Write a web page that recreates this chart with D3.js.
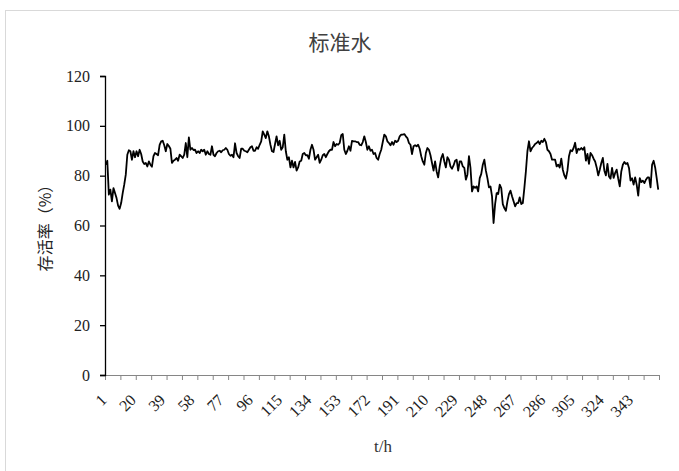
<!DOCTYPE html>
<html>
<head>
<meta charset="utf-8">
<script src="https://cdn.jsdelivr.net/npm/d3@7"></script>
<style>
  html, body { margin: 0; padding: 0; background: #fff; }
  svg { display: block; }
</style>
</head>
<body>
<svg id="chart" width="679" height="471"></svg>
<script>
// Survival rate (%) per hour, hours 1..360
const survival = [
  84.4, 86, 72.4, 74.4, 69.7, 75, 73, 71, 68, 66.7,
  69, 73, 76.4, 80.4, 88.4, 90.2, 89.8, 86.4, 89.8, 87.4,
  89.8, 87.8, 90.4, 88.7, 85.7, 84.7, 85.1, 83.7, 85.7, 84.4,
  83.6, 87.8, 89.1, 88.7, 88.2, 92.4, 93.8, 94, 92.2, 89.8,
  92.7, 91.9, 90.8, 85.1, 86, 86.4, 87.1, 86, 88.4, 87.8,
  87.1, 88.4, 93.1, 87.4, 95.4, 90.4, 91.1, 90.3, 90.4, 89.1,
  89.8, 89.1, 90.4, 89.8, 90.4, 88.4, 89.8, 88.7, 88.4, 91.8,
  88.4, 87.8, 89.1, 89.8, 90, 89.4, 90.2, 90.4, 91.1, 90.4,
  88.7, 88, 88.4, 87.4, 93, 89.1, 87.8, 87.1, 90.8, 90.8,
  90, 89.8, 89.4, 90.4, 91.4, 91.8, 90, 90, 91.4, 90.8,
  92.4, 93.8, 97.8, 96.5, 95.1, 97.8, 95.8, 92.4, 89.8, 89.5,
  92.7, 95.8, 92.2, 94, 90.4, 91.4, 96.5, 89.8, 86.4, 87.4,
  83.3, 86, 83.3, 85.5, 82, 83.3, 85.7, 86, 88.7, 89.1,
  88.2, 88.2, 86.8, 90.4, 92.4, 90.4, 86.4, 87.4, 88.4, 85.1,
  86.4, 88.2, 88.7, 87.4, 88.7, 89.8, 90.4, 90.4, 93.5, 91.8,
  92.7, 92.4, 93.1, 96.2, 96.7, 90.4, 88.7, 90, 91.8, 90,
  94, 93.8, 93.8, 93.5, 93.5, 92.4, 92.2, 93.5, 95.8, 93.5,
  90.4, 91.8, 90, 90.4, 88.7, 89.1, 87.1, 86.4, 88.7, 90.4,
  93.5, 96.5, 95.8, 93.8, 93.1, 92.2, 93.5, 92.4, 94, 93.5,
  94, 95.8, 96.5, 96.5, 96.7, 95.8, 95.1, 93.1, 92.4, 88.7,
  91.8, 92.2, 91.8, 92.4, 90.8, 87.8, 85.7, 84.4, 89.1, 91.1,
  90.4, 88.2, 85.1, 82, 85.7, 81.7, 79.3, 83.7, 87.1, 88.7,
  85.7, 83.3, 87.4, 86.4, 83.7, 82.8, 84.1, 86, 86.4, 82,
  85.7, 85.7, 83.7, 83.1, 78.4, 80.4, 87.8, 83.1, 73.7, 75.7,
  75.1, 75.7, 73.7, 79, 80.7, 84.4, 86.4, 82, 79, 75.3,
  75.7, 71.7, 61, 68.6, 73, 72.6, 76.4, 75, 68.6, 67,
  65.9, 69.7, 72.6, 74, 71.7, 69.7, 67.7, 69, 69, 71.3,
  68.6, 69, 75, 81.7, 89.8, 93.8, 89.8, 91.1, 91.8, 92.7,
  93.1, 93.8, 92.7, 94, 93.5, 94.8, 93.5, 90.4, 89.8, 88.7,
  86.4, 86.4, 86.4, 83.7, 84.4, 83.3, 86.8, 82.4, 80.1, 78.8,
  82, 87.8, 90.2, 89.8, 91.1, 93.2, 89.1, 90.8, 90.4, 91.1,
  90.4, 91.4, 86, 88.7, 84.7, 89.1, 88.2, 86.8, 85.7, 83.3,
  80.1, 82.4, 85.1, 87.1, 82, 80.1, 84.7, 79.7, 78.8, 83.1,
  79.1, 81.1, 82.4, 78.8, 75.7, 81.7, 84.4, 85.5, 84.7, 85.1,
  83.1, 78, 79, 76.4, 79.3, 76.4, 72, 79, 77.4, 78,
  77, 78.4, 79.3, 79.3, 75.3, 84.4, 86, 83.3, 79, 74.4
];
const hours = survival.map((_, i) => i + 1);
const hourLabels = [1, 20, 39, 58, 77, 96, 115, 134, 153, 172, 191, 210, 229, 248, 267, 286, 305, 324, 343];
const yTicks = [0, 20, 40, 60, 80, 100, 120];
const tickEvery = 10;

const svg = d3.select("#chart");
const plotLeft = 105, plotRight = 659, plotTop = 76, plotBottom = 375;

// frame
svg.append("rect")
  .attr("x", 5.5).attr("y", 10.5)
  .attr("width", 720).attr("height", 520)
  .attr("fill", "none").attr("stroke", "#d9d9d9").attr("stroke-width", 1);

// category edges: hour h occupies [h-1, h]
const x = d3.scaleLinear().domain([0, hours.length]).range([plotLeft, plotRight]);
const y = d3.scaleLinear().domain([0, 120]).range([plotBottom, plotTop]);
const cx = h => x(h - 0.5);

// title
svg.append("text")
  .attr("x", 340).attr("y", 50)
  .attr("text-anchor", "middle")
  .attr("font-family", "'Noto Sans CJK SC', sans-serif")
  .attr("font-size", 21).attr("fill", "#404040")
  .text("标准水");

// x axis: ticks between categories
const edges = d3.range(0, hours.length + 1, tickEvery);
const xAxis = svg.append("g")
  .attr("transform", `translate(0,${plotBottom})`)
  .call(d3.axisBottom(x).tickValues(edges).tickSize(5).tickFormat(""));
xAxis.select(".domain").attr("stroke", "#868686").attr("stroke-width", 1);
xAxis.selectAll(".tick line").attr("stroke", "#868686");

// x labels
svg.append("g")
  .selectAll("text")
  .data(hourLabels)
  .join("text")
  .attr("transform", d => `translate(${cx(d) + 2},${plotBottom + 26}) rotate(-45)`)
  .attr("text-anchor", "end")
  .attr("font-family", "'Liberation Serif', 'Times New Roman', serif")
  .attr("font-size", 16).attr("fill", "#222")
  .text(d => d);

// y axis
const yAxis = svg.append("g")
  .attr("transform", `translate(${plotLeft},0)`)
  .call(d3.axisLeft(y).tickValues(yTicks).tickSize(5).tickPadding(10));
yAxis.select(".domain").attr("stroke", "#000").attr("stroke-width", 1.3);
yAxis.selectAll(".tick line").attr("stroke", "#000").attr("stroke-width", 1.3);
yAxis.selectAll(".tick text")
  .attr("font-family", "'Liberation Serif', 'Times New Roman', serif")
  .attr("font-size", 16).attr("fill", "#222");

// axis titles
svg.append("text")
  .attr("x", 383).attr("y", 452)
  .attr("text-anchor", "middle")
  .attr("font-family", "'Liberation Serif', 'Times New Roman', serif")
  .attr("font-size", 17).attr("fill", "#333")
  .text("t/h");

svg.append("text")
  .attr("transform", "translate(51,224) rotate(-90)")
  .attr("text-anchor", "middle")
  .attr("font-family", "'Noto Sans CJK SC', sans-serif")
  .attr("font-size", 16).attr("fill", "#222")
  .text("存活率（%）");

// survival line
const line = d3.line()
  .x((d, i) => cx(hours[i]))
  .y(d => y(d));

svg.append("path")
  .datum(survival)
  .attr("fill", "none")
  .attr("stroke", "#000")
  .attr("stroke-width", 1.8)
  .attr("stroke-linejoin", "round")
  .attr("d", line);
</script>
</body>
</html>
